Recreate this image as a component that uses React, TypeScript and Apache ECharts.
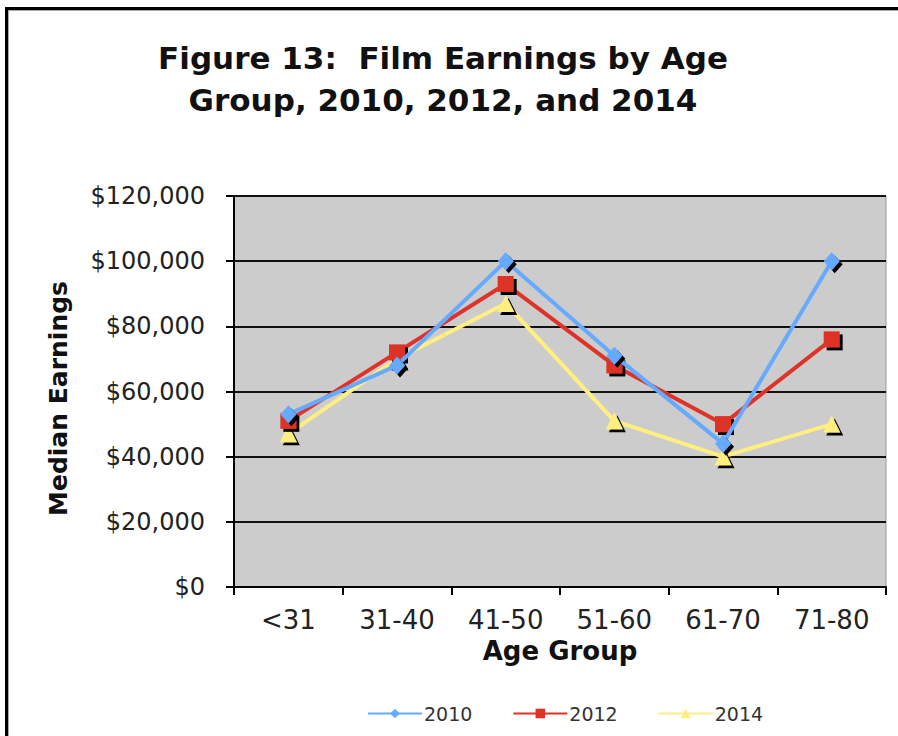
import React, { useEffect, useRef } from "react";
import * as echarts from "echarts";

const categories = ["<31", "31-40", "41-50", "51-60", "61-70", "71-80"];
const seriesNames = ["2010", "2012", "2014"];
const values2010 = [53000, 68000, 100000, 71000, 44000, 100000];
const values2012 = [51000, 72000, 93000, 68000, 50000, 76000];
const values2014 = [47000, 70000, 87000, 51000, 40000, 50000];
const yTicks = { min: 0, max: 120000, interval: 20000 };

const colors = ["#66aaff", "#dd3328", "#ffee80"];
const symbols = ["diamond", "rect", "triangle"];
const symbolSizes: any[] = [[16, 18], 16, 17];
const FONT = "DejaVu Sans, Verdana, sans-serif";

export default function App() {
  const ref = useRef<HTMLDivElement>(null);
  useEffect(() => {
    if (!ref.current) return;
    const chart = echarts.init(ref.current, undefined, { renderer: "svg" });
    const data = [values2010, values2012, values2014];
    chart.setOption({
      animation: false,
      backgroundColor: "#ffffff",
      textStyle: { fontFamily: FONT },
      graphic: [
        { type: "rect", shape: { x: 5, y: 7, width: 900, height: 3 }, style: { fill: "#000" } },
        { type: "rect", shape: { x: 8, y: 10, width: 900, height: 1 }, style: { fill: "#aaa" } },
        { type: "rect", shape: { x: 5, y: 7, width: 3, height: 740 }, style: { fill: "#000" } },
        { type: "rect", shape: { x: 8, y: 10, width: 1, height: 740 }, style: { fill: "#aaa" } },
        {
          type: "text",
          x: 443,
          y: 79,
          style: {
            text: "Figure 13:  Film Earnings by Age\nGroup, 2010, 2012, and 2014",
            fontFamily: FONT,
            fontWeight: "bold",
            fontSize: 31,
            lineHeight: 42,
            fill: "#111",
            align: "center",
            verticalAlign: "middle",
          },
        },
      ],
      legend: {
        data: seriesNames,
        bottom: 8,
        left: 362,
        itemWidth: 54,
        itemHeight: 12,
        itemGap: 40,
        textStyle: { fontSize: 19, color: "#333", fontFamily: FONT, padding: [0, 0, 0, -3] },
      },
      grid: {
        left: 234,
        right: 12,
        top: 196,
        bottom: 149,
        show: true,
        backgroundColor: "#cccccc",
        borderColor: "#999",
        borderWidth: 1,
      },
      xAxis: {
        type: "category",
        data: categories,
        boundaryGap: true,
        name: "Age Group",
        nameLocation: "middle",
        nameGap: 40,
        nameTextStyle: { fontSize: 26, fontWeight: "bold", color: "#111", fontFamily: FONT },
        axisLine: { lineStyle: { color: "#000", width: 2 } },
        axisTick: { show: true, length: 8, lineStyle: { color: "#000", width: 2 } },
        axisLabel: { fontSize: 26, color: "#222", margin: 20, fontFamily: FONT },
        splitLine: { show: false },
      },
      yAxis: {
        type: "value",
        min: yTicks.min,
        max: yTicks.max,
        interval: yTicks.interval,
        name: "Median Earnings",
        nameLocation: "middle",
        nameGap: 163,
        nameTextStyle: {
          fontSize: 25,
          fontWeight: "bold",
          color: "#111",
          fontFamily: FONT,
          padding: [0, 0, 0, -14],
        },
        axisLine: { show: true, lineStyle: { color: "#000", width: 2 } },
        axisTick: { show: true, length: 8, lineStyle: { color: "#000", width: 2 } },
        axisLabel: {
          fontSize: 24,
          color: "#222",
          margin: 29,
          fontFamily: FONT,
          formatter: (v: number) => "$" + v.toLocaleString("en-US"),
        },
        splitLine: { show: true, lineStyle: { color: "#111", width: 2 } },
      },
      series: seriesNames.map((name, i) => ({
        name,
        type: "line",
        data: data[i],
        symbol: symbols[i],
        symbolSize: symbolSizes[i],
        lineStyle: { color: colors[i], width: 4 },
        itemStyle: {
          color: colors[i],
          shadowColor: "#000",
          shadowOffsetX: 3,
          shadowOffsetY: 3,
          shadowBlur: 0,
        },
        z: 2 + (2 - i),
      })),
    });
    return () => chart.dispose();
  }, []);
  return (
    <div
      ref={ref}
      style={{ position: "fixed", left: 0, top: 0, width: 898, height: 736 }}
    />
  );
}
